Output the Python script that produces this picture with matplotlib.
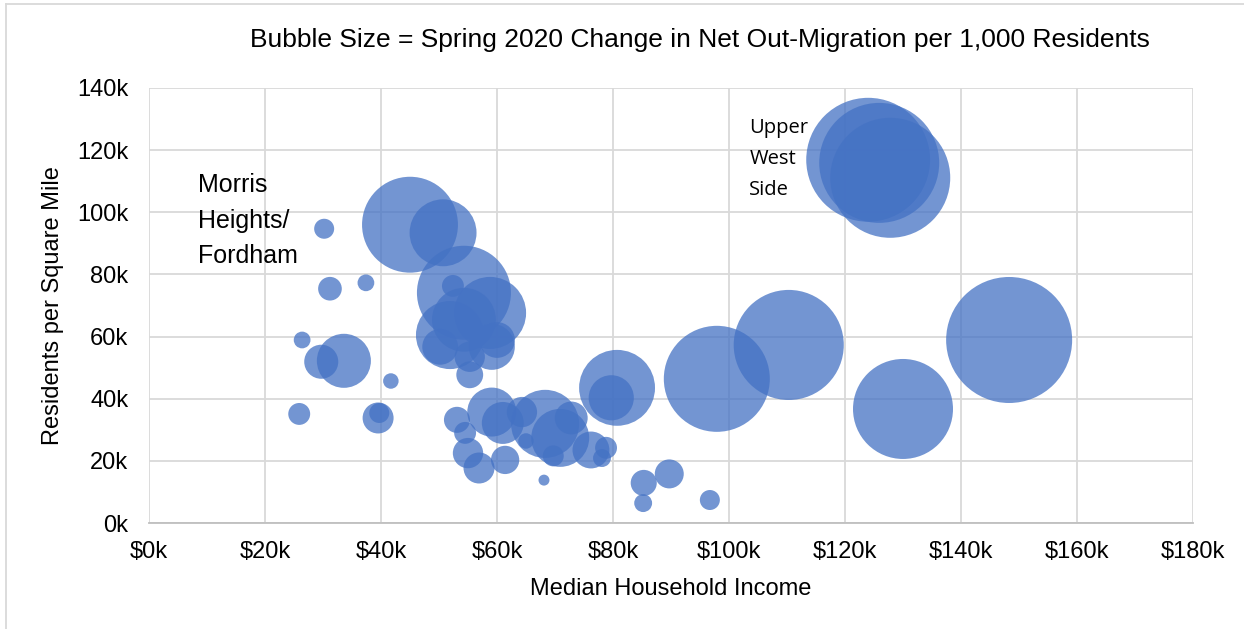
import numpy as np
import matplotlib
matplotlib.use("Agg")
import matplotlib.pyplot as plt
from matplotlib.lines import Line2D

# median household income ($k), residents per sq mile (k), change in net out-migration per 1,000
income = [45.0, 50.7, 30.2, 31.2, 37.4, 54.3, 58.8, 52.4, 51.9, 54.3,
          50.2, 60.0, 59.1, 55.3, 55.3, 26.4, 29.7, 33.6, 41.7, 25.9,
          39.5, 39.7, 53.1, 54.5, 55.0, 56.9, 59.1, 61.0, 61.4, 64.3,
          65.0, 68.3, 70.9, 72.8, 69.7, 76.2, 78.8, 78.1, 68.1, 85.3,
          85.2, 89.7, 96.7, 80.7, 79.7, 97.9, 110.3, 130.0, 148.3, 124.0,
          125.9, 127.8]
density = [96.0, 93.4, 94.7, 75.4, 77.3, 74.1, 67.6, 76.3, 60.5, 65.4,
           56.7, 58.9, 56.7, 53.5, 47.7, 58.9, 51.9, 52.2, 45.7, 35.1,
           33.8, 35.4, 33.2, 29.0, 22.5, 17.7, 35.7, 32.2, 20.3, 35.7,
           26.4, 31.9, 27.4, 33.8, 21.6, 23.5, 24.2, 20.9, 13.8, 12.9,
           6.4, 15.8, 7.4, 43.5, 40.3, 46.4, 57.3, 36.7, 58.9, 116.9,
           115.9, 111.1]
out_migration = [23.0, 11.2, 1.0, 1.4, 0.7, 22.1, 13.0, 1.2, 11.6, 10.2,
                 3.2, 3.2, 5.3, 2.3, 1.8, 0.7, 2.9, 7.3, 0.6, 1.2,
                 2.4, 1.0, 1.7, 1.2, 2.3, 2.4, 6.0, 4.4, 2.0, 2.3,
                 0.6, 11.6, 8.4, 2.7, 1.1, 3.4, 1.2, 0.8, 0.3, 1.7,
                 0.8, 2.1, 1.0, 14.4, 5.1, 28.1, 30.3, 25.0, 39.7, 38.4,
                 36.0, 36.0]

x_ticks = np.arange(0, 181, 20)
y_ticks = np.arange(0, 141, 20)

fig = plt.figure(figsize=(12.44, 6.29), dpi=100)
ax = fig.add_axes([149/1244, 1 - 523/629, (1193-149)/1244, (523-88)/629])

sizes = 207.36 * np.array(out_migration)
ax.scatter(income, density, s=sizes, color='#4472C4', alpha=0.75, linewidths=0, zorder=3)

ax.set_xlim(0, 180)
ax.set_ylim(0, 140)
ax.set_xticks(x_ticks)
ax.set_yticks(y_ticks)
ax.set_xticklabels(['$%dk' % v for v in x_ticks])
ax.set_yticklabels(['%dk' % v for v in y_ticks])
ax.tick_params(length=0, labelsize=17, colors='#000000')
ax.tick_params(axis='x', pad=13)
ax.tick_params(axis='y', pad=15)
for lab in ax.get_xticklabels() + ax.get_yticklabels():
    lab.set_family('Liberation Sans')

ax.grid(color='#D9D9D9', linewidth=1.3, zorder=0)
ax.set_axisbelow(True)
for s in ['top', 'right', 'left']:
    ax.spines[s].set_visible(False)
ax.spines['bottom'].set_color('#BFBFBF')
ax.spines['bottom'].set_linewidth(1.3)

ax.set_xlabel('Median Household Income', fontsize=17, family='Liberation Sans', labelpad=11)
ax.set_ylabel('Residents per Square Mile', fontsize=17, family='Liberation Sans', labelpad=9)

fig.text(700/1244, 1 - 40/629, 'Bubble Size = Spring 2020 Change in Net Out-Migration per 1,000 Residents',
         ha='center', va='center', fontsize=19, family='Liberation Sans')

ax.text(8.5, 112.5, 'Morris\nHeights/\nFordham', fontsize=18, family='Liberation Sans',
        ha='left', va='top', linespacing=1.6)
ax.text(103.5, 130.5, 'Upper\nWest\nSide', fontsize=14.5, family='Open Sans',
        ha='left', va='top', linespacing=1.75)

# chart area border (left and top edges visible)
fig.add_artist(Line2D([6/1244, 6/1244], [0, 1 - 4/629], transform=fig.transFigure, color='#D9D9D9', lw=1.3))
fig.add_artist(Line2D([6/1244, 1], [1 - 4/629, 1 - 4/629], transform=fig.transFigure, color='#D9D9D9', lw=1.3))

fig.savefig('out.png', dpi=100)
